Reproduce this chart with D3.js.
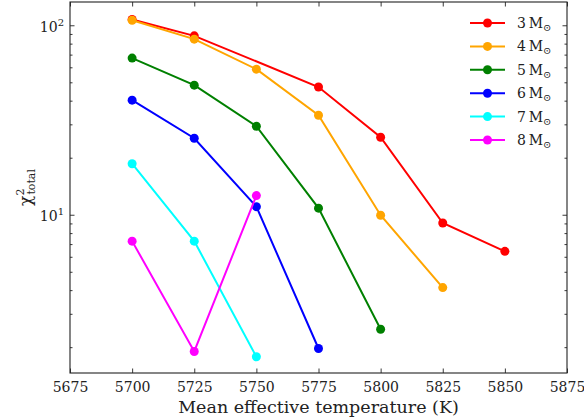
<!DOCTYPE html>
<html>
<head>
<meta charset="utf-8">
<script src="https://cdn.jsdelivr.net/npm/d3@7"></script>
<style>
  body { margin: 0; background: #fff; }
  svg text { font-family: "DejaVu Serif", "Liberation Serif", "Times New Roman", serif; fill: #222; }
</style>
</head>
<body>
<svg width="584" height="420"></svg>
<script>
// chart size
const width = 584,
    height = 420;

// series: mass (solar masses), temperatures and chi^2 values
const masses = [3, 4, 5, 6, 7, 8];
const colors = ["red", "orange", "green", "blue", "cyan", "magenta"];

const t3 = [5700, 5725, 5775, 5800, 5825, 5850];
const chi3 = [108, 88.5, 47.5, 25.8, 9.1, 6.45];
const t4 = [5700, 5725, 5750, 5775, 5800, 5825];
const chi4 = [107, 85, 59, 33.7, 10.0, 4.15];
const t5 = [5700, 5725, 5750, 5775, 5800];
const chi5 = [67.5, 48.6, 29.5, 10.9, 2.5];
const t6 = [5700, 5725, 5750, 5775];
const chi6 = [40.5, 25.5, 11.1, 1.98];
const t7 = [5700, 5725, 5750];
const chi7 = [18.7, 7.3, 1.79];
const t8 = [5700, 5725, 5750];
const chi8 = [7.3, 1.91, 12.7];

const xTicks = [5675, 5700, 5725, 5750, 5775, 5800, 5825, 5850, 5875];

const temps = [t3, t4, t5, t6, t7, t8];
const chis = [chi3, chi4, chi5, chi6, chi7, chi8];

const series = masses.map((m, i) => ({
    mass: m,
    color: colors[i],
    points: temps[i].map((t, j) => ({ t: t, chi: chis[i][j] }))
}));

const margin = { left: 70, right: 17, top: 2, bottom: 47 };
const plotW = width - margin.left - margin.right,
    plotH = height - margin.top - margin.bottom;
const serif = "'DejaVu Serif', 'Liberation Serif', serif";

const x = d3.scaleLinear()
    .domain([5675, 5875])
    .range([0, plotW]);

const y = d3.scaleLog()
    .domain([1.47, 133.5])
    .range([plotH, 0]);

const svg = d3.select("svg");
const g = svg.append("g")
    .attr("transform", `translate(${margin.left},${margin.top})`);

// log ticks, majors at powers of ten
const yTicks = y.ticks();
const isMajor = v => Math.abs(Math.log10(v) - Math.round(Math.log10(v))) < 1e-9;

function addYTicks(sel, side) {
    const dir = side === "left" ? 1 : -1;
    sel.selectAll("line")
        .data(yTicks)
        .enter()
        .append("line")
        .attr("x1", 0)
        .attr("x2", d => dir * (isMajor(d) ? 4.5 : 2.5))
        .attr("y1", d => y(d))
        .attr("y2", d => y(d))
        .attr("stroke", "#222")
        .attr("stroke-width", 0.9);
}

const leftAxis = g.append("g");
addYTicks(leftAxis, "left");
const rightAxis = g.append("g").attr("transform", `translate(${plotW},0)`);
addYTicks(rightAxis, "right");

// y tick labels 10^n
const yLabels = g.append("g").selectAll("text")
    .data(yTicks.filter(isMajor))
    .enter()
    .append("text")
    .attr("x", -6)
    .attr("y", d => y(d) + 6)
    .attr("text-anchor", "end")
    .style("font-family", serif)
    .style("font-size", "14px");
yLabels.append("tspan").text("10");
yLabels.append("tspan")
    .attr("dy", -6)
    .style("font-size", "10px")
    .text(d => Math.round(Math.log10(d)));

// x axis bottom and top ticks
const xAxis = d3.axisBottom(x)
    .tickValues(xTicks)
    .tickSizeInner(-4.5)
    .tickSizeOuter(0)
    .tickPadding(9)
    .tickFormat(d3.format("d"));

g.append("g")
    .attr("transform", `translate(0,${plotH})`)
    .call(xAxis)
    .attr("font-family", null)
    .call(a => a.select(".domain").remove())
    .call(a => a.selectAll("line").attr("stroke", "#222").attr("stroke-width", 0.9))
    .call(a => a.selectAll("text")
        .style("font-family", serif)
        .style("font-size", "14px")
        .attr("fill", "#222"));

g.append("g")
    .call(d3.axisTop(x).tickValues(xTicks).tickSizeInner(-4.5).tickSizeOuter(0).tickFormat(""))
    .call(a => a.select(".domain").remove())
    .call(a => a.selectAll("line").attr("stroke", "#222").attr("stroke-width", 0.9));

// frame
g.append("rect")
    .attr("width", plotW)
    .attr("height", plotH)
    .attr("fill", "none")
    .attr("stroke", "#222")
    .attr("stroke-width", 1.1);

// lines and markers
const line = d3.line()
    .x(d => x(d.t))
    .y(d => y(d.chi));

series.forEach(s => {
    const sg = g.append("g");
    sg.append("path")
        .datum(s.points)
        .attr("d", line)
        .attr("fill", "none")
        .attr("stroke", s.color)
        .attr("stroke-width", 2);
    sg.selectAll("circle")
        .data(s.points)
        .enter()
        .append("circle")
        .attr("cx", d => x(d.t))
        .attr("cy", d => y(d.chi))
        .attr("r", 4.5)
        .attr("fill", s.color);
});

// legend
const legend = g.append("g")
    .attr("transform", `translate(${470 - margin.left},${23 - margin.top})`);
const items = legend.selectAll("g")
    .data(series)
    .enter()
    .append("g")
    .attr("transform", (d, i) => `translate(0,${i * 23.4})`);
items.append("line")
    .attr("x1", 0).attr("x2", 35)
    .attr("stroke", d => d.color)
    .attr("stroke-width", 2);
items.append("circle")
    .attr("cx", 17.5)
    .attr("r", 4.5)
    .attr("fill", d => d.color);
const lt = items.append("text")
    .attr("x", 47)
    .attr("y", 5)
    .style("font-family", serif)
    .style("font-size", "14px");
lt.append("tspan").text(d => d.mass + "\u2009M");
lt.append("tspan")
    .attr("dy", 3)
    .style("font-size", "10px")
    .text("\u2299");

// axis labels
svg.append("text")
    .attr("x", margin.left + plotW / 2)
    .attr("y", 413)
    .attr("text-anchor", "middle")
    .style("font-family", serif)
    .style("font-size", "17.5px")
    .text("Mean effective temperature (K)");

const yl = svg.append("text")
    .attr("transform", `translate(31,${margin.top + plotH / 2}) rotate(-90)`)
    .attr("text-anchor", "middle")
    .style("font-family", serif)
    .style("font-size", "17px");
yl.append("tspan").text("\u03c7");
yl.append("tspan").attr("dy", -7).style("font-size", "11px").text("2");
yl.append("tspan").attr("dx", -6).attr("dy", 11).style("font-size", "11px").text("total");
</script>
</body>
</html>
